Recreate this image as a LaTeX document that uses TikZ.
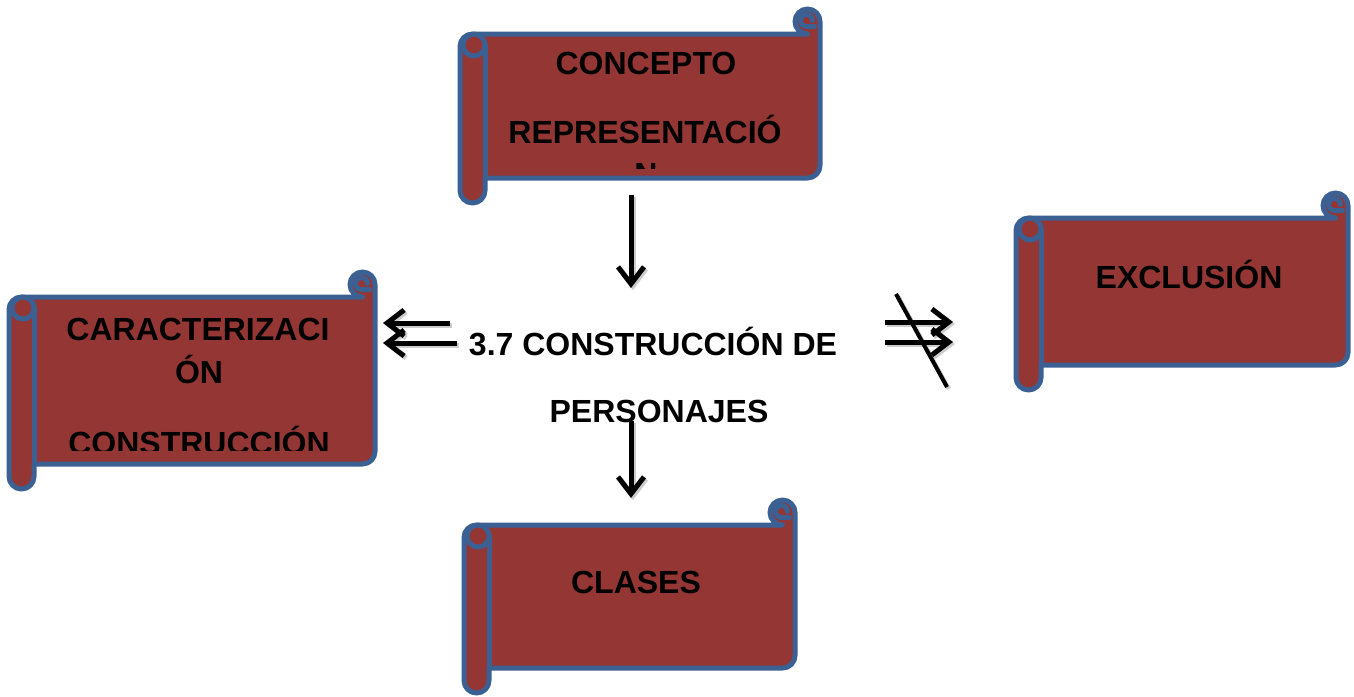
\documentclass[tikz,border=0pt]{standalone}
\usepackage{fontspec}
\setmainfont{Liberation Sans}
\usetikzlibrary{arrows.meta}
\definecolor{scrollred}{HTML}{943634}
\definecolor{scrollblue}{HTML}{3B6093}
\def\scrC{25}
\def\scrH{12.5}
\def\scrL{11}
\def\scrQ{6}
\newcommand\ScrollShape[4]{%
  \path[scrollbody] (#1,#2+\scrC+\scrH) arc[start angle=180,end angle=270,radius=\scrH]
    -- (#3-\scrH,#2+\scrC) arc[start angle=90,end angle=360,radius=\scrH]
    -- (#3,#4-\scrC-\scrH) arc[start angle=0,end angle=90,radius=\scrH]
    -- (#1+\scrC,#4-\scrC) -- (#1+\scrC,#4-\scrH) arc[start angle=0,end angle=180,radius=\scrH]
    -- cycle;
  \path[scrollbody] (#1+\scrC-\scrL,#2+\scrC+\scrL) circle[radius=\scrL];
  \draw[scrollline] (#1+\scrC,#2+\scrC+\scrL) -- (#1+\scrC,#4-\scrC);
  \draw[scrollline] (#3-\scrH-1+\scrQ,#2+\scrH-1) arc[start angle=0,end angle=-270,radius=\scrQ] -- ++(\scrQ+2,0);
}
\tikzset{
  scrollbody/.style={fill=scrollred, draw=scrollblue, line width=5pt, line join=round},
  scrollline/.style={draw=scrollblue, line width=5pt, line cap=round},
  lbl/.style={anchor=base, inner sep=0pt, font=\fontsize{32}{38}\selectfont\bfseries, text=black},
  arr/.style={line width=5pt, -{Straight Barb[length=17pt,width=26pt]}},
  shad/.style={draw=black!20, transform canvas={xshift=2pt,yshift=-2pt}}
}
\begin{document}
\begin{tikzpicture}[x=1pt,y=-1pt]
\useasboundingbox[fill=white] (0,0) rectangle (1354,696);

% scrolls
\ScrollShape{460}{9}{820}{203}
\ScrollShape{9}{272}{375}{489}
\ScrollShape{1016}{193}{1348}{390}
\ScrollShape{464}{500}{795}{693}

% texts
\node[lbl] (concepto) at (646,74) {CONCEPTO};
\node[lbl] (repres) at (645,143) {REPRESENTACIÓ};
\begin{scope}
  \clip (480,120) rectangle (815,168);
  \node[lbl] (represN) at (646,185) {N};
\end{scope}
\node[lbl] (caract) at (198,340) {CARACTERIZACI};
\node[lbl] (caractON) at (199,383) {ÓN};
\begin{scope}
  \clip (30,400) rectangle (370,450);
  \node[lbl] (constr) at (199,454) {CONSTRUCCIÓN};
\end{scope}
\node[lbl] (exclusion) at (1189,288) {EXCLUSIÓN};
\node[lbl] (clases) at (636,593) {CLASES};
\node[lbl] (centro1) at (653,355) {3.7 CONSTRUCCIÓN DE};
\node[lbl] (centro2) at (659,422) {PERSONAJES};

% arrow coordinates
\coordinate (d1s) at (631,195);
\coordinate (d1e) at (631,288);
\coordinate (d2s) at (631,421);
\coordinate (d2e) at (631,498);
\coordinate (l1s) at (450,323);
\coordinate (l1e) at (383,323);
\coordinate (l2s) at (457,343);
\coordinate (l2e) at (383,343);
\coordinate (r1s) at (885,322);
\coordinate (r1e) at (953,322);
\coordinate (r2s) at (885,342);
\coordinate (r2e) at (953,342);
\coordinate (xs) at (896,294);
\coordinate (xe) at (947,387);

% shadows
\foreach \a/\b in {d1s/d1e,d2s/d2e,l1s/l1e,l2s/l2e,r1s/r1e,r2s/r2e}{
  \draw[arr,shad] (\a) -- (\b);
}
\draw[shad,line width=4pt] (xs) -- (xe);

% arrows
\draw[arr] (d1s) -- (d1e);
\draw[arr] (d2s) -- (d2e);
\draw[arr] (l1s) -- (l1e);
\draw[arr] (l2s) -- (l2e);
\draw[arr] (r1s) -- (r1e);
\draw[arr] (r2s) -- (r2e);
\draw[line width=4pt] (xs) -- (xe);
\end{tikzpicture}
\end{document}
